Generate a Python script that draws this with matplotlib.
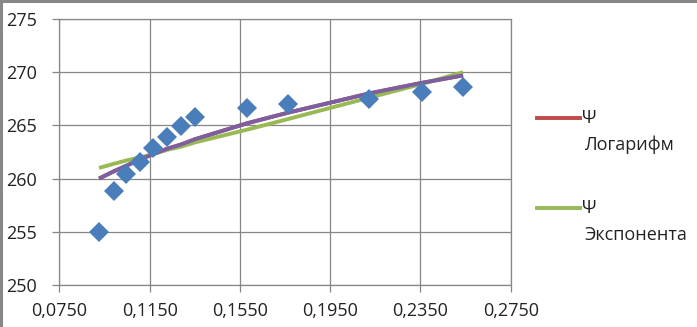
import matplotlib
matplotlib.use("Agg")
import matplotlib.pyplot as plt
from matplotlib.lines import Line2D

# --- DATA ---
x_data = [0.0926, 0.0993, 0.1046, 0.1108, 0.1166, 0.1227, 0.1289,
          0.1351, 0.1582, 0.1764, 0.2122, 0.2357, 0.2539]
psi_data = [255.0, 258.8, 260.4, 261.6, 262.9, 263.9, 264.9,
            265.8, 266.6, 267.0, 267.5, 268.1, 268.6]

# model curves evaluated at the same x values
psi_log = [260.0, 260.7, 261.2, 261.8, 262.3, 262.8, 263.2,
           263.7, 265.2, 266.2, 268.0, 269.0, 269.7]
psi_exp = [261.0, 261.4, 261.7, 262.0, 262.3, 262.7, 263.0,
           263.4, 264.6, 265.6, 267.6, 268.9, 270.0]

x_ticks = [0.0750, 0.1150, 0.1550, 0.1950, 0.2350, 0.2750]
x_tick_labels = ["0,0750", "0,1150", "0,1550", "0,1950", "0,2350", "0,2750"]
y_ticks = [250, 255, 260, 265, 270, 275]
y_tick_labels = ["250", "255", "260", "265", "270", "275"]

legend_labels = ["Ψ\nЛогарифм", "Ψ\nЭкспонента"]

# --- STYLE ---
plt.rcParams['font.family'] = ['Open Sans', 'DejaVu Sans']
grey = '#868686'
blue = '#4a7ebb'
red = '#be4b48'
green = '#98b954'
purple = '#7d5fa0'
txt = '#222222'

fig = plt.figure(figsize=(6.97, 3.27), dpi=100)
ax = fig.add_axes([0.0851, 0.1284, 0.6476, 0.8135])

ax.plot(x_data, psi_log, color=red, linewidth=2.8, solid_capstyle='butt', zorder=3)
ax.plot(x_data, psi_exp, color=green, linewidth=2.8, solid_capstyle='butt', zorder=3)
# logarithmic trendline of the measured points, drawn over the red curve
ax.plot(x_data, psi_log, color=purple, linewidth=2.8, solid_capstyle='butt', zorder=4)
ax.plot(x_data, psi_data, linestyle='none', marker='D', markersize=10,
        color=blue, markeredgewidth=0, zorder=5)

ax.set_xlim(x_ticks[0], x_ticks[-1])
ax.set_ylim(y_ticks[0], y_ticks[-1])
ax.set_xticks(x_ticks)
ax.set_xticklabels(x_tick_labels)
ax.set_yticks(y_ticks)
ax.set_yticklabels(y_tick_labels)

ax.grid(True, color=grey, linewidth=0.9)
ax.set_axisbelow(True)
for sp in ax.spines.values():
    sp.set_color(grey)
    sp.set_linewidth(0.9)

ax.tick_params(axis='both', direction='out', length=5, width=0.9,
               color=grey, labelsize=13, labelcolor=txt)
ax.tick_params(axis='y', pad=11)
ax.tick_params(axis='x', pad=7)

# --- legend (Excel style: handle next to the first line of the label) ---
leg_colors = [red, green]
leg_y = [118, 208]
for lab, col, yp in zip(legend_labels, leg_colors, leg_y):
    yf = 1 - yp / 327
    fig.add_artist(Line2D([537 / 697, 580 / 697], [yf, yf], color=col,
                          linewidth=2.8, transform=fig.transFigure))
    first, second = lab.split("\n")
    fig.text(582 / 697, yf, first, fontsize=13, va='center', ha='left', color=txt)
    fig.text(584 / 697, yf - 27 / 327, second, fontsize=13, va='center', ha='left',
             color=txt)

# outer chart border (top and left visible)
fig.add_artist(Line2D([0, 1], [1 - 1 / 327, 1 - 1 / 327], color='#878787',
                      linewidth=2.2, transform=fig.transFigure))
fig.add_artist(Line2D([1 / 697, 1 / 697], [0, 1], color='#878787',
                      linewidth=2.2, transform=fig.transFigure))

fig.savefig("out.png", dpi=100)
